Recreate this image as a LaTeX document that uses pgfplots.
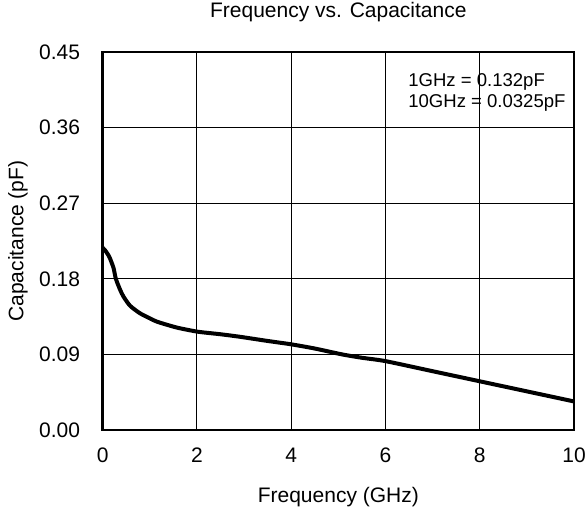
\documentclass[border=0pt]{standalone}
\usepackage{pgfplots}
\pgfplotsset{compat=1.18}
\usepackage{fontspec}
\setmainfont{Liberation Sans}
\begin{document}
\begin{tikzpicture}
\path[use as bounding box] (-77pt,-63pt) rectangle (364pt,322.5pt);
\begin{axis}[
  scale only axis,
  width=353.5pt, height=283.5pt,
  xmin=0, xmax=10, ymin=0, ymax=0.45,
  xtick={0,2,4,6,8,10},
  ytick={0,0.09,0.18,0.27,0.36,0.45},
  yticklabel style={/pgf/number format/fixed, /pgf/number format/fixed zerofill, /pgf/number format/precision=2},
  /pgf/number format/assume math mode=true,
  major tick length=0pt,
  grid=major,
  major grid style={black, line width=0.8pt},
  axis line style={black, line width=1.8pt},
  tick label style={font=\fontsize{15.75}{18}\selectfont},
  yticklabel style={anchor=east, xshift=-13.5pt},
  xticklabel style={anchor=center, yshift=-18.75pt},
  xlabel={Frequency (GHz)},
  ylabel={Capacitance (pF)},
  title={Frequency vs. Capacitance},
  label style={font=\fontsize{15.75}{18}\selectfont},
  xlabel style={at={(axis description cs:0.5,0)}, anchor=center, yshift=-50pt},
  ylabel style={at={(axis description cs:0,0.5)}, anchor=center, yshift=63.5pt},
  title style={font=\fontsize{15.75}{18}\selectfont, at={(axis description cs:0.5,1)}, anchor=center, yshift=24pt},
  clip=false,
]
\addplot[black, line width=3pt, smooth, tension=0.4, line join=round] coordinates {
(0,0.217)(0.05,0.214)(0.1,0.210)(0.15,0.205)(0.23,0.193)(0.28,0.180)(0.37,0.167)(0.44,0.159)(0.58,0.148)(0.79,0.139)(1.0,0.133)(1.15,0.129)(1.57,0.122)(2.02,0.117)(2.5,0.114)(2.91,0.111)(3.5,0.106)(4,0.102)(4.5,0.097)(5.08,0.090)(5.5,0.086)(6,0.082)(7,0.070)(8,0.058)(9,0.046)(10,0.034)
};
\node[anchor=west, align=left, inner sep=0pt, font=\fontsize{13.9}{16.2}\selectfont] at (axis cs:6.48,0.4018) {1GHz = 0.132pF\\10GHz = 0.0325pF};
\end{axis}
\end{tikzpicture}
\end{document}
